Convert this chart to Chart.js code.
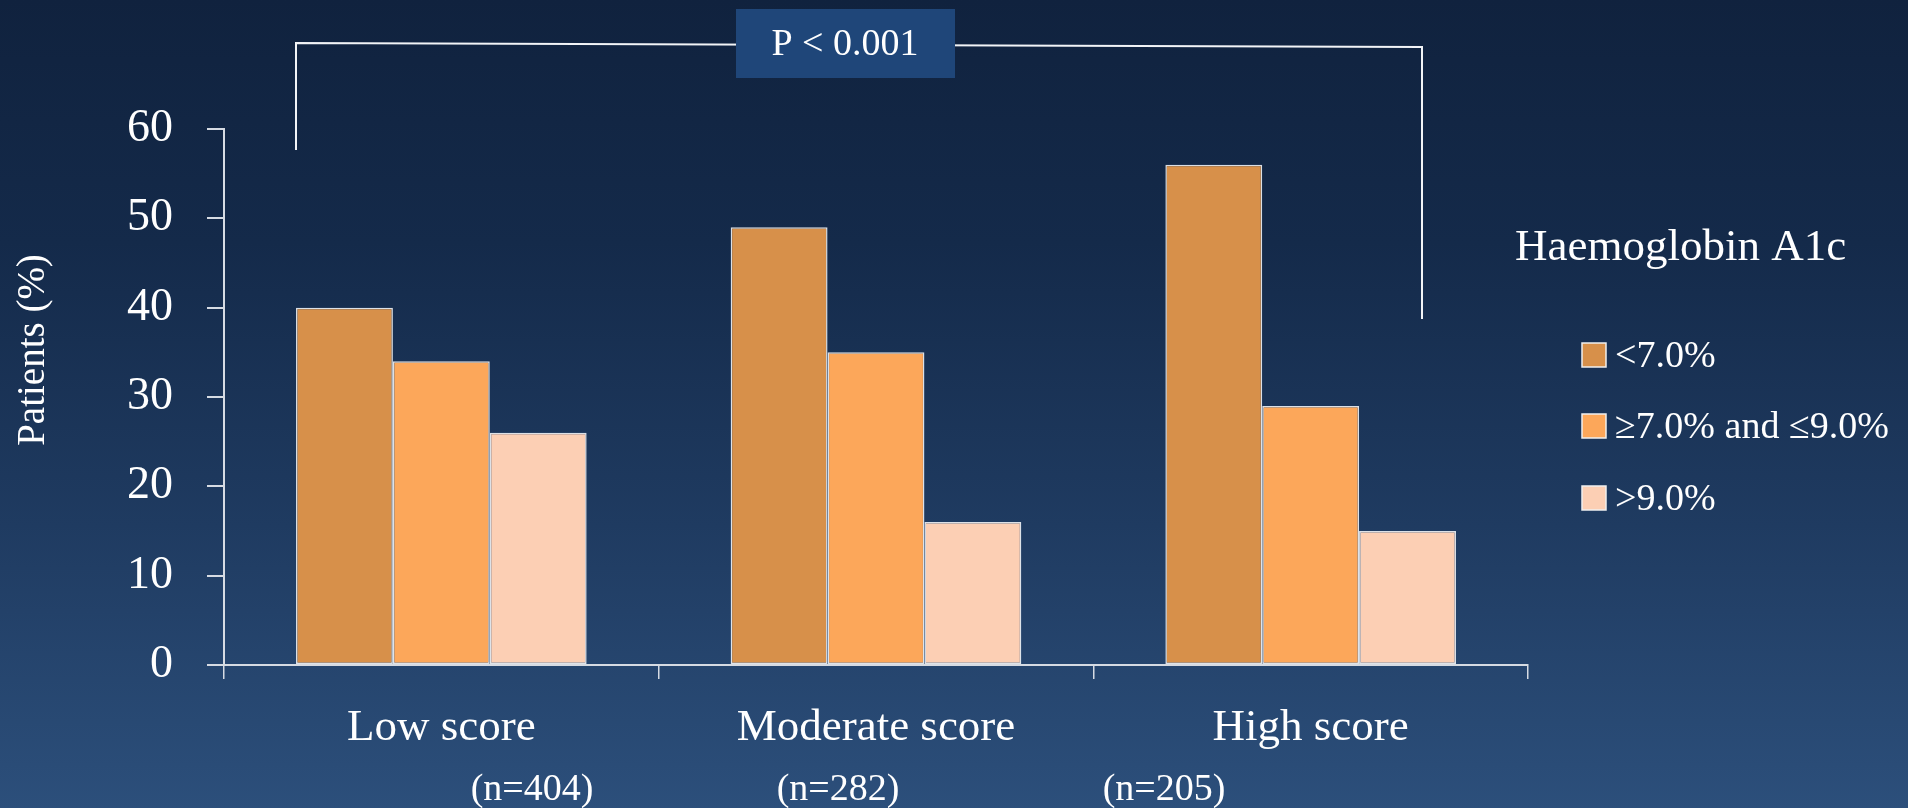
<!DOCTYPE html>
<html>
<head>
<meta charset="utf-8">
<script src="https://cdn.jsdelivr.net/npm/chart.js@4.4.1/dist/chart.umd.min.js"></script>
<style>
  html, body { margin: 0; padding: 0; }
  body {
    width: 1908px; height: 808px; overflow: hidden;
    background: linear-gradient(to bottom, #10223e 0%, #142a4a 30%, #1f3b61 65%, #2c4f7b 100%);
  }
  canvas { display: block; }
</style>
</head>
<body>
<canvas id="chart" width="1908" height="808"></canvas>
<script>
// data
const categories = ['Low score', 'Moderate score', 'High score'];
const nLabels = ['(n=404)', '(n=282)', '(n=205)'];
const seriesLabels = ['<7.0%', '≥7.0% and ≤9.0%', '>9.0%'];
const below7 = [40, 49, 56];
const from7to9 = [34, 35, 29];
const above9 = [26, 16, 15];
const yTicks = [0, 10, 20, 30, 40, 50, 60];
const legendTitle = 'Haemoglobin A1c';
const yTitle = 'Patients (%)';
const pText = 'P < 0.001';

const colors = ['#d7904a', '#fca75a', '#fccfb4'];
const serif = "'Liberation Serif', 'Times New Roman', serif";
const axisColor = '#d6dbe3';

// bracket, p-value box, legend, n= labels and y title
const extras = {
  id: 'extras',
  afterDraw(chart) {
    const ctx = chart.ctx;
    ctx.save();

    // bracket
    ctx.strokeStyle = '#f2f4f7';
    ctx.lineWidth = 2;
    ctx.beginPath();
    ctx.moveTo(296, 150);
    ctx.lineTo(296, 43);
    ctx.lineTo(1422, 47);
    ctx.lineTo(1422, 319);
    ctx.stroke();

    // p value box
    ctx.fillStyle = '#1f4679';
    ctx.fillRect(736, 9, 219, 69);
    ctx.fillStyle = '#ffffff';
    ctx.font = '38px ' + serif;
    ctx.textAlign = 'center';
    ctx.textBaseline = 'alphabetic';
    ctx.fillText(pText, 845, 55);

    // legend
    ctx.textAlign = 'left';
    ctx.font = '45px ' + serif;
    ctx.fillText(legendTitle, 1515, 260);
    ctx.font = '38px ' + serif;
    const tops = [343, 414, 486];
    seriesLabels.forEach((lab, i) => {
      ctx.fillStyle = colors[i];
      ctx.fillRect(1582, tops[i], 24, 24);
      ctx.strokeStyle = '#f0f0f0';
      ctx.lineWidth = 1.5;
      ctx.strokeRect(1582, tops[i], 24, 24);
      ctx.fillStyle = '#ffffff';
      ctx.fillText(lab, 1615, tops[i] + 24);
    });

    // n labels under categories
    ctx.textAlign = 'center';
    ctx.font = '38px ' + serif;
    const nx = [532, 838, 1164];
    nLabels.forEach((t, i) => ctx.fillText(t, nx[i], 800));

    // y title
    ctx.translate(44, 350);
    ctx.rotate(-Math.PI / 2);
    ctx.font = '39px ' + serif;
    ctx.fillText(yTitle, 0, 0);

    ctx.restore();
  }
};

const ds = (label, data, i) => ({
  label: label,
  data: data,
  backgroundColor: colors[i],
  borderColor: 'rgba(255,255,255,0.85)',
  borderWidth: 1.5,
  borderSkipped: false,
  categoryPercentage: 0.6686,
  barPercentage: 1.0
});

new Chart(document.getElementById('chart'), {
  type: 'bar',
  data: {
    labels: categories,
    datasets: [
      ds(seriesLabels[0], below7, 0),
      ds(seriesLabels[1], from7to9, 1),
      ds(seriesLabels[2], above9, 2)
    ]
  },
  options: {
    responsive: false,
    animation: false,
    devicePixelRatio: 1,
    layout: { padding: { top: 129, right: 380, left: 0, bottom: 0 } },
    plugins: {
      legend: { display: false },
      tooltip: { enabled: false }
    },
    scales: {
      x: {
        afterFit(scale) { scale.height = 143; },
        grid: { drawOnChartArea: false, drawTicks: true, tickLength: 14, color: axisColor, lineWidth: 1.5, offset: true },
        border: { display: true, color: axisColor, width: 2 },
        ticks: { color: '#ffffff', font: { family: serif, size: 45 }, padding: 22, maxRotation: 0 }
      },
      y: {
        min: 0,
        max: 60,
        afterFit(scale) { scale.width = 224; },
        afterBuildTicks(scale) { scale.ticks = yTicks.map(v => ({ value: v })); },
        grid: { drawOnChartArea: false, drawTicks: true, tickLength: 17, color: axisColor, lineWidth: 2 },
        border: { display: true, color: axisColor, width: 2 },
        ticks: { color: '#ffffff', font: { family: serif, size: 46 }, padding: 34 }
      }
    }
  },
  plugins: [extras]
});
</script>
</body>
</html>
